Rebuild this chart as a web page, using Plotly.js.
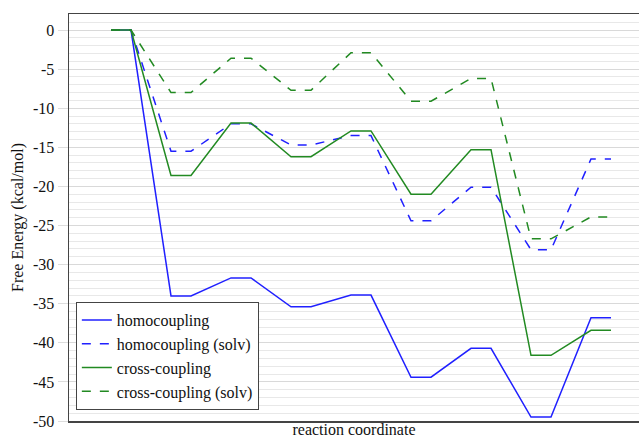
<!DOCTYPE html>
<html>
<head>
<meta charset="utf-8">
<script src="https://cdn.plot.ly/plotly-3.0.1.min.js"></script>
<style>html,body{margin:0;padding:0;background:#fff;}#chart{width:639px;height:438px;}</style>
</head>
<body>
<div id="chart"></div>
<script>
// State energies (kcal/mol), one value per reaction step
const steps = [0, 1, 2, 3, 4, 5, 6, 7, 8];
const homocoupling = [0, -34.0, -31.7, -35.4, -33.9, -44.4, -40.7, -49.5, -36.8];
const homocouplingSolv = [0, -15.5, -12.0, -14.7, -13.5, -24.4, -20.1, -28.1, -16.5];
const crossCoupling = [0, -18.6, -11.9, -16.2, -12.9, -21.0, -15.3, -41.6, -38.4];
const crossCouplingSolv = [0, -8.0, -3.6, -7.7, -2.9, -9.1, -6.2, -26.7, -23.9];
const seriesNames = ["homocoupling", "homocoupling (solv)", "cross-coupling", "cross-coupling (solv)"];
const yTicks = [0, -5, -10, -15, -20, -25, -30, -35, -40, -45, -50];

// each state drawn as a short plateau (level line) at 3k .. 3k+1
function plateau(vals) {
  const x = [], y = [];
  steps.forEach((s, i) => { x.push(3 * s, 3 * s + 1); y.push(vals[i], vals[i]); });
  return {x, y};
}
const specs = [
  [homocoupling, "#2020ff", "solid"],
  [homocouplingSolv, "#2020ff", "dash"],
  [crossCoupling, "#228a22", "solid"],
  [crossCouplingSolv, "#228a22", "dash"]
];
const traces = specs.map((s, i) => {
  const p = plateau(s[0]);
  return {x: p.x, y: p.y, type: "scatter", mode: "lines", name: seriesNames[i],
    line: {color: s[1], width: 1.5, dash: s[2]}};
});
const layout = {
  width: 639, height: 438,
  margin: {l: 69, r: 0, t: 14, b: 17},
  paper_bgcolor: "#fff", plot_bgcolor: "#fff",
  font: {family: "Liberation Serif, Times New Roman, serif", size: 16, color: "#111"},
  showlegend: true,
  legend: {x: 0.012, y: 0.027, xanchor: "left", yanchor: "bottom",
    bgcolor: "#fff", bordercolor: "#444", borderwidth: 1,
    font: {size: 16, family: "Liberation Serif, serif"}, tracegroupgap: 0, itemwidth: 30},
  xaxis: {range: [-2.1, 26.4], showticklabels: false, ticks: "", showgrid: false, zeroline: false,
    showline: true, linecolor: "#444", linewidth: 1.5, mirror: true,
    title: {text: "reaction coordinate", standoff: 6, font: {size: 16}}},
  yaxis: {range: [-50, 2.05], tickvals: yTicks, ticktext: yTicks.map(String),
    ticks: "outside", ticklen: 10, tickcolor: "#ddd", tickwidth: 1,
    showgrid: true, gridcolor: "#d9d9d9", gridwidth: 1, zeroline: false,
    showline: true, linecolor: "#444", linewidth: 1.5,
    minor: {dtick: 1, showgrid: true, gridcolor: "#e8e8e8", gridwidth: 1, ticks: ""},
    tickfont: {size: 16},
    title: {text: "Free Energy (kcal/mol)", standoff: 5, font: {size: 16}}}
};
Plotly.newPlot("chart", traces, layout, {displayModeBar: false, staticPlot: true});
</script>
</body>
</html>
